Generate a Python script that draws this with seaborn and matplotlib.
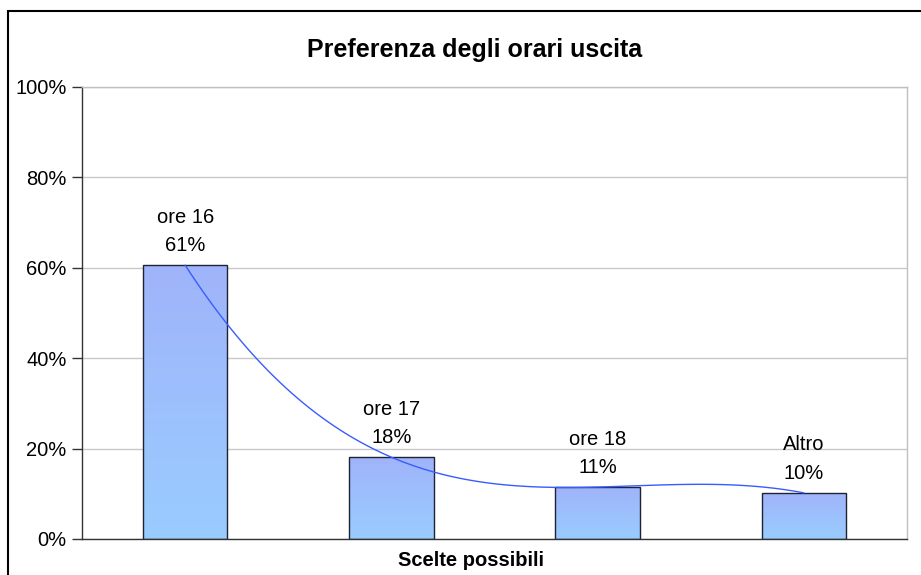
import matplotlib
matplotlib.use("Agg")
import matplotlib.pyplot as plt
import seaborn as sns
import numpy as np
from matplotlib.patches import Rectangle
from matplotlib.ticker import FuncFormatter

# dati
categorie = ["ore 16", "ore 17", "ore 18", "Altro"]
valori = [60.6, 18.1, 11.5, 10.2]
etichette = ["61%", "18%", "11%", "10%"]
yticks = [0, 20, 40, 60, 80, 100]

sns.set_theme(style="white")
plt.rcParams['font.family'] = ['Liberation Sans', 'DejaVu Sans']
plt.rcParams['text.color'] = 'black'
plt.rcParams['ytick.labelcolor'] = 'black'

fig = plt.figure(figsize=(9.21, 5.75), dpi=100)
ax = fig.add_axes([82 / 921, 36 / 575, 825 / 921, 452 / 575])

# bordo esterno del grafico
fig.patches.append(Rectangle((8 / 921, -0.1), 1.0, (575 - 11) / 575 + 0.1,
                             transform=fig.transFigure, fill=False,
                             edgecolor="black", linewidth=1.5))

sns.barplot(x=categorie, y=valori, width=0.41, ax=ax,
            edgecolor="#1f2233", linewidth=1.0, zorder=3)

# riempimento sfumato delle barre
grad = np.array([
    [160, 180, 250],
    [153, 204, 255],
]) / 255.0
grad = np.linspace(grad[0], grad[1], 100)[:, None, :]
for p in ax.patches:
    x0, y0 = p.get_x(), p.get_y()
    w, h = p.get_width(), p.get_height()
    p.set_facecolor("none")
    im = ax.imshow(grad, extent=[x0, x0 + w, y0, y0 + h], aspect="auto",
                   origin="upper", zorder=2.5)
    im.set_clip_path(p)

# linea di tendenza polinomiale
xpos = np.arange(len(valori))
sns.regplot(x=xpos, y=valori, order=3, ci=None, scatter=False, truncate=True,
            ax=ax, line_kws={"color": "#3a5cff", "linewidth": 1.0, "zorder": 4})

# etichette sopra le barre
for i, (c, v, e) in enumerate(zip(categorie, valori, etichette)):
    ax.annotate(f"{c}\n{e}", (i, v), xytext=(0, 7), textcoords="offset points",
                ha="center", va="bottom", fontsize=14.5, linespacing=1.65,
                color="black", zorder=5)

ax.set_xlim(-0.5, 3.5)
ax.set_ylim(0, 100)
ax.set_yticks(yticks)
ax.yaxis.set_major_formatter(FuncFormatter(lambda v, _: f"{v:.0f}%"))
ax.set_xticks([])
ax.set_xlabel("")
ax.set_ylabel("")
ax.tick_params(axis="y", which="major", direction="out", length=7, width=1,
               color="#333333", labelsize=14.5, left=True, pad=4)

ax.grid(axis="y", color="#c8c8c8", linewidth=1)
ax.set_axisbelow(True)
for s in ["top", "right"]:
    ax.spines[s].set_color("#c0c0c0")
    ax.spines[s].set_linewidth(1)
for s in ["left", "bottom"]:
    ax.spines[s].set_color("#333333")
    ax.spines[s].set_linewidth(1)

fig.text(475 / 921, 1 - 50 / 575, "Preferenza degli orari uscita",
         ha="center", va="center", fontsize=18, fontweight="bold")
fig.text(471 / 921, 1 - 561 / 575, "Scelte possibili",
         ha="center", va="center", fontsize=14.5, fontweight="bold")

fig.savefig("out.png", dpi=100)
